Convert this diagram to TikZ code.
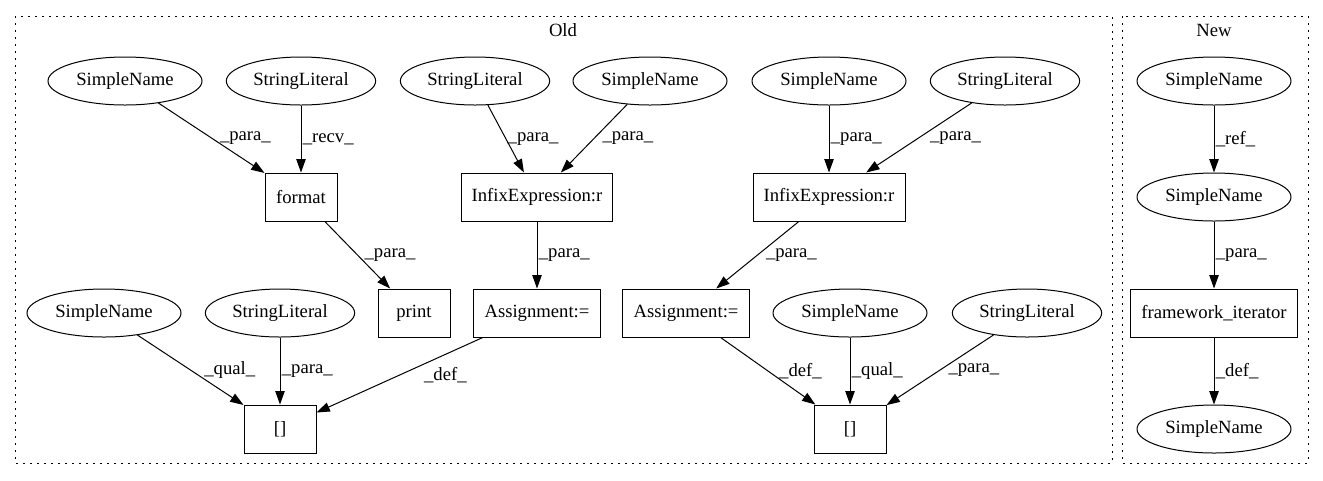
\documentclass[tikz,border=0pt]{standalone}
\usepackage{fontspec}
\setmainfont{Liberation Serif}
\usetikzlibrary{arrows.meta,shapes.geometric}
\tikzset{>={Triangle[length=10pt,width=7pt]},x=0.75pt,y=-0.75pt}
\tikzset{
  every node/.style={font=\fontsize{14pt}{16pt}\selectfont},
  sname/.style={ellipse,draw,line width=0.75pt,minimum width=115.5pt,minimum height=36pt,inner sep=0pt},
  slit/.style={ellipse,draw,line width=0.75pt,minimum width=112pt,minimum height=36pt,inner sep=0pt},
  op/.style={rectangle,draw,line width=0.75pt,minimum width=54pt,minimum height=36pt,inner xsep=8pt},
  lbl/.style={anchor=west,inner sep=1pt,xshift=5pt},
  vlbl/.style={anchor=west,inner sep=1pt},
  cluster/.style={draw,line width=0.75pt,dash pattern=on 1.5pt off 3.75pt}
}

\begin{document}
\begin{tikzpicture}
    \useasboundingbox (0,0) rectangle (1323,480);
    % clusters
    \draw[cluster] (15,16) rectangle (1112,463);
    \draw[cluster] (1122,16) rectangle (1308,463);
    \node (oldlbl) at (563,30) {Old};
    \node (newlbl) at (1214,30) {New};
    % old: format / print
    \node[sname] (sn1)  at (125,81)  {SimpleName};
    \node[slit]  (sl1)  at (301,81)  {StringLiteral};
    \node[op]    (fmt)  at (301,197) {format};
    \node[op]    (prt)  at (414,313) {print};
    \node[sname] (sn4)  at (104,313) {SimpleName};
    \node[slit]  (sl4)  at (280,313) {StringLiteral};
    \node[op]    (idxA) at (280,429) {[]};
    % old: first assignment
    \node[slit]  (sl2)  at (475,81)  {StringLiteral};
    \node[sname] (sn2)  at (650,81)  {SimpleName};
    \node[op]    (infA) at (537,197) {InfixExpression:r};
    \node[op]    (asgA) at (537,313) {Assignment:=};
    % old: second assignment
    \node[sname] (sn3)  at (829,81)  {SimpleName};
    \node[slit]  (sl3)  at (1005,81) {StringLiteral};
    \node[op]    (infB) at (829,197) {InfixExpression:r};
    \node[op]    (asgB) at (686,313) {Assignment:=};
    \node[sname] (sn5)  at (850,313) {SimpleName};
    \node[slit]  (sl5)  at (1027,313) {StringLiteral};
    \node[op]    (idxB) at (850,429) {[]};
    % new
    \node[sname] (nsn1) at (1214,81)  {SimpleName};
    \node[sname] (nsn2) at (1214,197) {SimpleName};
    \node[op]    (fwi)  at (1214,313) {framework\_iterator};
    \node[sname] (nsn3) at (1214,429) {SimpleName};

    \path[->,line width=0.75pt]
        (sn1)  edge node[lbl]  {\_para\_} (fmt)
        (sl1)  edge node[vlbl] {\_recv\_} (fmt)
        (fmt)  edge node[lbl,xshift=-1pt] {\_para\_} (prt)
        (sn4)  edge node[lbl,xshift=4pt] {\_qual\_} (idxA)
        (sl4)  edge node[vlbl] {\_para\_} (idxA)
        (asgA) edge node[lbl,xshift=12pt] {\_def\_} (idxA)
        (sl2)  edge node[vlbl] {\_para\_} (infA)
        (sn2)  edge node[lbl]  {\_para\_} (infA)
        (infA) edge node[vlbl] {\_para\_} (asgA)
        (sn3)  edge node[vlbl] {\_para\_} (infB)
        (sl3)  edge node[lbl,xshift=2pt]  {\_para\_} (infB)
        (infB) edge node[lbl]  {\_para\_} (asgB)
        (asgB) edge node[lbl,xshift=2pt]  {\_def\_} (idxB)
        (sn5)  edge node[vlbl] {\_qual\_} (idxB)
        (sl5)  edge node[lbl]  {\_para\_} (idxB)
        (nsn1) edge node[vlbl] {\_ref\_} (nsn2)
        (nsn2) edge node[vlbl] {\_para\_} (fwi)
        (fwi)  edge node[vlbl] {\_def\_} (nsn3)
        ;
\end{tikzpicture}
\end{document}
